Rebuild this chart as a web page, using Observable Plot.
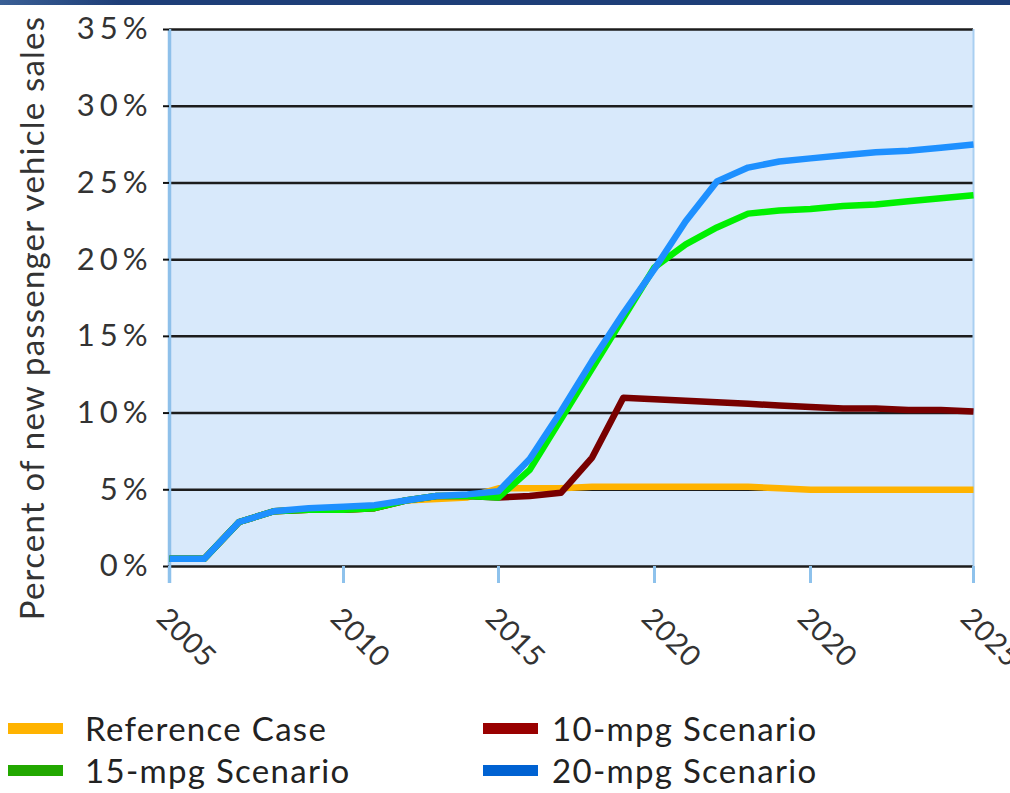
<!DOCTYPE html>
<html>
<head>
<meta charset="utf-8">
<script src="https://cdn.jsdelivr.net/npm/d3@7"></script>
<script src="https://cdn.jsdelivr.net/npm/@observablehq/plot@0.6"></script>
<style>
  html, body { margin: 0; padding: 0; background: #fff; }
  body { width: 1010px; height: 793px; position: relative; overflow: hidden; font-family: Lato, "Open Sans", sans-serif; }
  #band { position: absolute; left: 0; top: 0; width: 1010px; height: 5px; background: linear-gradient(90deg, #3a5f95 0%, #1e3e78 12%, #1e3e78 100%); }
  #chart { position: absolute; left: 0; top: 0; }
  #chart svg { overflow: visible; }
  #legend { position: absolute; left: 0; top: 706px; width: 1010px; color: #222; font-size: 33px; letter-spacing: 1.3px; }
  .item { position: absolute; display: flex; align-items: center; height: 44px; white-space: nowrap; }
  .sw { width: 55px; height: 11px; }
  .ytick text { letter-spacing: 5px; }
  .xtick text { letter-spacing: 0.5px; }
  .ytitle text { letter-spacing: 1.2px; }
</style>
</head>
<body>
<div id="chart"></div>
<div id="band"></div>
<div id="legend"></div>
<script>
// Years of the projection (annual values)
const years = d3.range(2005, 2031);

// Share of new passenger vehicle sales, in percent
const referenceCase = [0.5, 0.5, 2.9, 3.6, 3.7, 3.7, 3.8, 4.3, 4.4, 4.5, 5.1, 5.1, 5.1, 5.2, 5.2, 5.2, 5.2, 5.2, 5.2, 5.1, 5.0, 5.0, 5.0, 5.0, 5.0, 5.0];
const mpg10 = [0.5, 0.5, 2.9, 3.6, 3.7, 3.7, 3.8, 4.3, 4.6, 4.6, 4.5, 4.6, 4.8, 7.1, 11.0, 10.9, 10.8, 10.7, 10.6, 10.5, 10.4, 10.3, 10.3, 10.2, 10.2, 10.1];
const mpg15 = [0.5, 0.5, 2.9, 3.6, 3.7, 3.7, 3.8, 4.3, 4.6, 4.6, 4.5, 6.3, 9.6, 12.9, 16.2, 19.5, 21.0, 22.1, 23.0, 23.2, 23.3, 23.5, 23.6, 23.8, 24.0, 24.2];
const mpg20 = [0.5, 0.5, 2.9, 3.6, 3.8, 3.9, 4.0, 4.3, 4.6, 4.7, 4.9, 7.0, 10.1, 13.4, 16.5, 19.4, 22.5, 25.1, 26.0, 26.4, 26.6, 26.8, 27.0, 27.1, 27.3, 27.5];

// Series names, line colours and legend swatch colours
const seriesNames = ["Reference Case", "10-mpg Scenario", "15-mpg Scenario", "20-mpg Scenario"];
const lineColors = ["#ffb300", "#780000", "#00f000", "#1e90ff"];
const swatchColors = ["#ffb300", "#990000", "#22a800", "#0062d2"];

// Axis ticks and their labels
const xTicks = [2005, 2010, 2015, 2020, 2025, 2030];
const xTickLabels = ["2005", "2010", "2015", "2020", "2020", "2025"];
const yTicks = [0, 5, 10, 15, 20, 25, 30, 35];
const yLabel = "Percent of new passenger vehicle sales";

const seriesValues = [referenceCase, mpg10, mpg15, mpg20];
const rows = seriesNames.flatMap((name, i) =>
  years.map((year, j) => ({series: name, year, value: seriesValues[i][j]}))
);

const chart = Plot.plot({
  width: 1010,
  height: 700,
  marginTop: 29,
  marginBottom: 134,
  marginLeft: 169,
  marginRight: 37,
  style: {fontFamily: "Lato, 'Open Sans', sans-serif", color: "#333", background: "transparent"},
  x: {type: "linear", domain: xTicks, range: [169, 343, 498, 654, 810, 973]},
  y: {domain: [0, 35]},
  color: {domain: seriesNames, range: lineColors},
  marks: [
    Plot.frame({fill: "#d8e9fb", stroke: null}),
    Plot.ruleY(yTicks, {stroke: "#1c1c1c", strokeWidth: 2.5}),
    Plot.ruleX([2030], {stroke: "#a9cff1", strokeWidth: 2, insetBottom: -17}),
    Plot.ruleX([2005], {stroke: "#8ec0ea", strokeWidth: 3.5, insetBottom: -17}),
    Plot.axisY({
      ticks: yTicks, tickSize: 6, tickPadding: 11, stroke: "#111", strokeWidth: 2,
      tickFormat: d => d + "%", fontSize: 31, label: null, className: "ytick"
    }),
    Plot.axisX({
      ticks: xTicks, tickSize: 17, text: null, stroke: "#8ec2ec", strokeWidth: 3, label: null
    }),
    Plot.axisX({
      ticks: xTicks, tickSize: 17, tickPadding: 30, tickRotate: 45, stroke: null, dx: -8,
      tickFormat: d => xTickLabels[xTicks.indexOf(d)], fontSize: 29, label: null, className: "xtick"
    }),
    Plot.text([yLabel], {
      frameAnchor: "left", textAnchor: "middle", dx: -136, dy: 20, rotate: -90,
      fontSize: 33, fill: "#333", className: "ytitle"
    }),
    Plot.lineY(rows, {x: "year", y: "value", z: "series", stroke: "series", strokeWidth: 6.5, strokeLinejoin: "round", strokeLinecap: "butt"})
  ]
});
document.getElementById("chart").append(chart);

// Legend in two columns below the chart
const legend = document.getElementById("legend");
const positions = [[8, 0, 22], [483, 0, 14], [8, 42, 22], [483, 42, 14]];
seriesNames.forEach((name, i) => {
  const [left, top, gap] = positions[i];
  const item = document.createElement("div");
  item.className = "item";
  item.style.left = left + "px";
  item.style.top = top + "px";
  const sw = document.createElement("span");
  sw.className = "sw";
  sw.style.background = swatchColors[i];
  sw.style.marginRight = gap + "px";
  const label = document.createElement("span");
  label.textContent = name;
  item.append(sw, label);
  legend.append(item);
});
</script>
</body>
</html>
